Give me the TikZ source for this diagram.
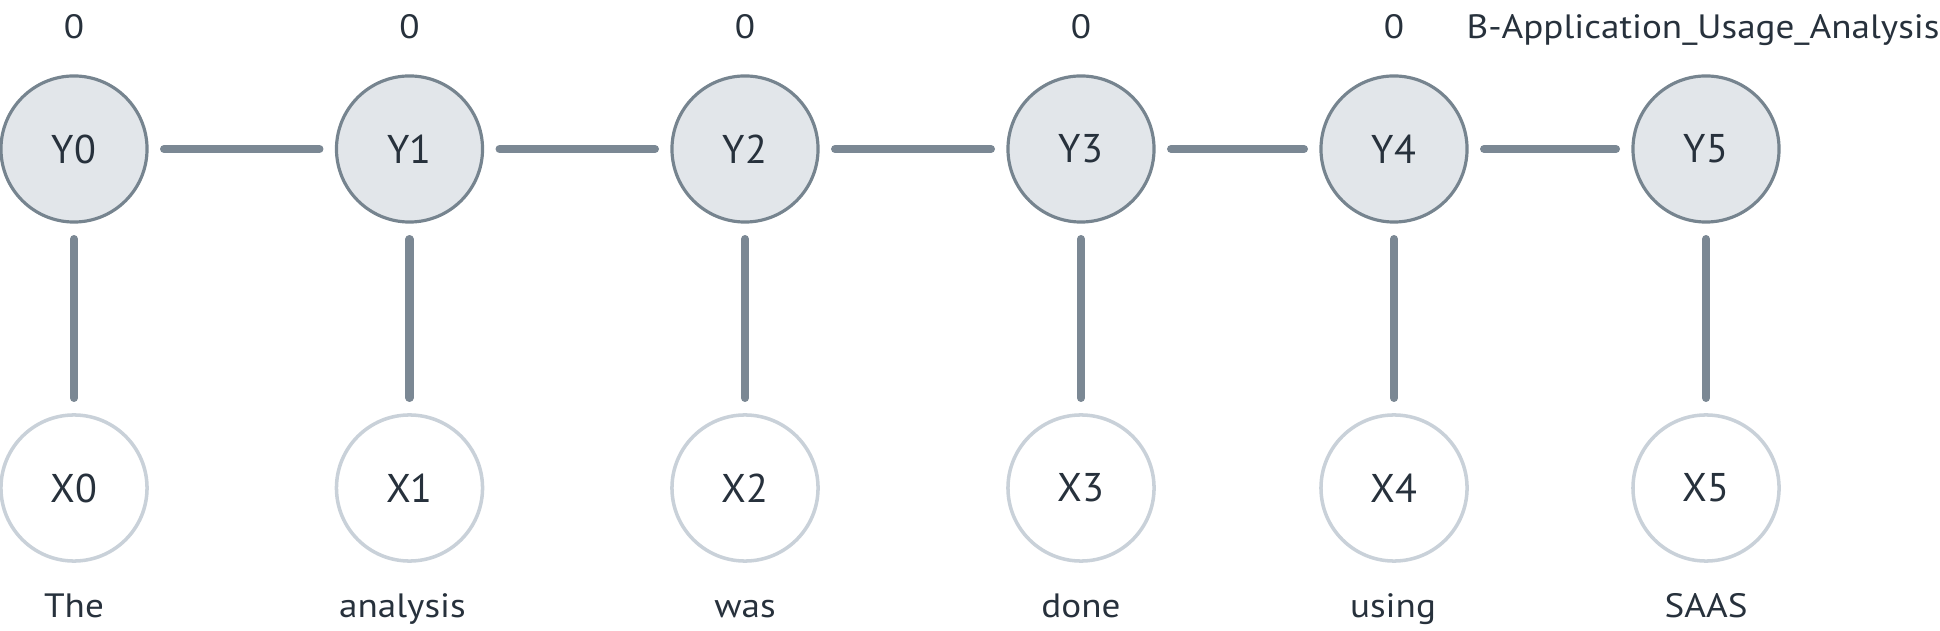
\documentclass[tikz,border=0pt]{standalone}
\usepackage{fontspec}
\setmainfont{PT Sans}
\newfontfamily\widefont[FakeStretch=1.1]{PT Sans}
\usepackage{tikz}

\definecolor{tagfill}{HTML}{E2E6EA}
\definecolor{tagline}{HTML}{76848F}
\definecolor{wordline}{HTML}{C9D1D9}
\definecolor{linkgray}{HTML}{7B8894}
\definecolor{ink}{HTML}{27313C}

\begin{document}
\begin{tikzpicture}[x=0.01cm, y=-0.01cm,
    tag/.style={circle, minimum size=1.46cm, inner sep=0pt, outer sep=0pt,
        draw=tagline, fill=tagfill, line width=0.9pt, text=ink,
        font=\fontsize{11.4}{13}\selectfont},
    obs/.style={circle, minimum size=1.46cm, inner sep=0pt, outer sep=0pt,
        draw=wordline, fill=white, line width=1pt, text=ink,
        font=\fontsize{11.4}{13}\selectfont},
    toptext/.style={anchor=base, inner sep=0pt, text=ink,
        font=\widefont\fontsize{9.6}{11}\selectfont},
    wordtext/.style={anchor=base, inner sep=0pt, text=ink,
        font=\widefont\fontsize{9.6}{11}\selectfont},
    link/.style={line width=2.3pt, draw=linkgray, line cap=round,
        shorten >=0.17cm, shorten <=0.17cm}]
            \useasboundingbox (0,0) rectangle (1940,631);
            % tag layer
            \node[tag] (Y0) at (74,149) {Y0};
            \node[tag] (Y1) at (409.5,149) {Y1};
            \node[tag] (Y2) at (745,149) {Y2};
            \node[tag] (Y3) at (1081,149) {Y3};
            \node[tag] (Y4) at (1394,149) {Y4};
            \node[tag] (Y5) at (1706,149) {Y5};
            % observed words
            \node[obs] (X0) at (74,488) {X0};
            \node[obs] (X1) at (409.5,488) {X1};
            \node[obs] (X2) at (745,488) {X2};
            \node[obs] (X3) at (1081,488) {X3};
            \node[obs] (X4) at (1394,488) {X4};
            \node[obs] (X5) at (1706,488) {X5};
            % predicted tags
            \node[toptext] (T0) at (74,39) {0};
            \node[toptext] (T1) at (409.5,39) {0};
            \node[toptext] (T2) at (745,39) {0};
            \node[toptext] (T3) at (1081,39) {0};
            \node[toptext] (T4) at (1394,39) {0};
            \node[toptext] (T5) at (1703,39) {B-Application\_Usage\_Analysis};
            % tokens
            \node[wordtext] (W0) at (74,617) {The};
            \node[wordtext] (W1) at (402.5,617) {analysis};
            \node[wordtext] (W2) at (745,617) {was};
            \node[wordtext] (W3) at (1081,617) {done};
            \node[wordtext] (W4) at (1393,617) {using};
            \node[wordtext] (W5) at (1706,617) {SAAS};
            % chain
            \draw[link] (Y0) -- (Y1);
            \draw[link] (Y1) -- (Y2);
            \draw[link] (Y2) -- (Y3);
            \draw[link] (Y3) -- (Y4);
            \draw[link] (Y4) -- (Y5);
            \draw[link] (Y0) -- (X0);
            \draw[link] (Y1) -- (X1);
            \draw[link] (Y2) -- (X2);
            \draw[link] (Y3) -- (X3);
            \draw[link] (Y4) -- (X4);
            \draw[link] (Y5) -- (X5);
        \end{tikzpicture}
\end{document}
